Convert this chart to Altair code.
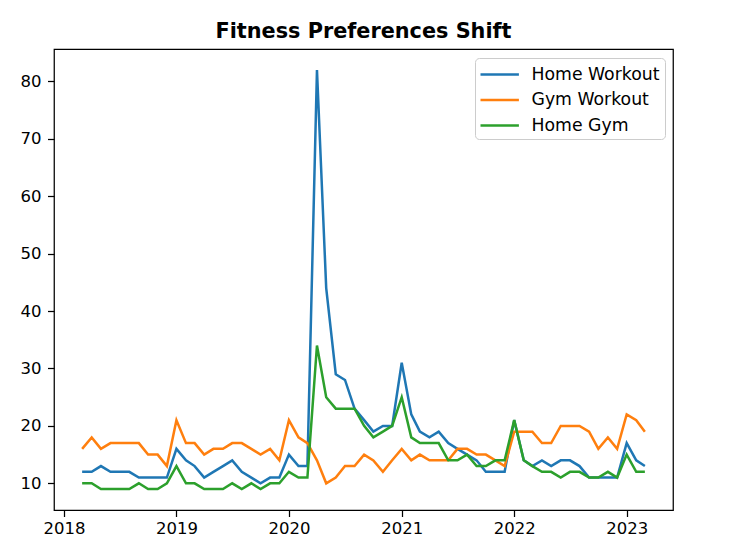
import altair as alt
import pandas as pd

# Monthly dates, 2018-03 .. 2023-03
months = [f"{y}-{m:02d}-01" for y in range(2018, 2024) for m in range(1, 13)
          if (y, m) >= (2018, 3) and (y, m) <= (2023, 3)]

home_workout = [12, 12, 13, 12, 12, 12, 11, 11, 11, 11,
                16, 14, 13, 11, 12, 13, 14, 12, 11, 10, 11, 11,
                15, 13, 13, 82, 44, 29, 28, 23, 21, 19, 20, 20,
                31, 22, 19, 18, 19, 17, 16, 15, 14, 12, 12, 12,
                21, 14, 13, 14, 13, 14, 14, 13, 11, 11, 11, 11,
                17, 14, 13]
gym_workout = [16, 18, 16, 17, 17, 17, 17, 15, 15, 13,
               21, 17, 17, 15, 16, 16, 17, 17, 16, 15, 16, 14,
               21, 18, 17, 14, 10, 11, 13, 13, 15, 14, 12, 14,
               16, 14, 15, 14, 14, 14, 16, 16, 15, 15, 14, 13,
               19, 19, 19, 17, 17, 20, 20, 20, 19, 16, 18, 16,
               22, 21, 19]
home_gym = [10, 10, 9, 9, 9, 9, 10, 9, 9, 10,
            13, 10, 10, 9, 9, 9, 10, 9, 10, 9, 10, 10,
            12, 11, 11, 34, 25, 23, 23, 23, 20, 18, 19, 20,
            25, 18, 17, 17, 17, 14, 14, 15, 13, 13, 14, 14,
            21, 14, 13, 12, 12, 11, 12, 12, 11, 11, 12, 11,
            15, 12, 12]

series_names = ["Home Workout", "Gym Workout", "Home Gym"]
series_colors = ["#1f77b4", "#ff7f0e", "#2ca02c"]
year_ticks = [2018, 2019, 2020, 2021, 2022, 2023]
y_ticks = [10, 20, 30, 40, 50, 60, 70, 80]

rows = []
for name, vals in zip(series_names, [home_workout, gym_workout, home_gym]):
    for d, v in zip(months, vals):
        rows.append({"date": d, "value": v, "series": name})
df = pd.DataFrame(rows)

FONT = "DejaVu Sans"

chart = alt.Chart(df).mark_line(strokeWidth=2.5).encode(
    x=alt.X("date:T",
            scale=alt.Scale(type="utc",
                            domain=[alt.DateTime(year=2017, month=11, date=29, hours=17, utc=True),
                                    alt.DateTime(year=2023, month=5, date=31, hours=7, utc=True)]),
            axis=alt.Axis(title=None, format="%Y", formatType="utc",
                          values=[alt.DateTime(year=y, month=1, date=1, utc=True) for y in year_ticks],
                          labelPadding=3.5)),
    y=alt.Y("value:Q",
            scale=alt.Scale(domain=[5.35, 85.65], nice=False, zero=False),
            axis=alt.Axis(title=None, values=y_ticks, labelPadding=6.5)),
    color=alt.Color("series:N",
                    scale=alt.Scale(domain=series_names, range=series_colors),
                    legend=alt.Legend(title=None, orient="top-right", offset=8.5,
                                      symbolType="M-1.92,0H1.92", symbolSize=400,
                                      symbolStrokeWidth=2.5, symbolOffset=8.2,
                                      labelOffset=20.3, padding=5, rowPadding=5.5,
                                      strokeColor="#cccccc", cornerRadius=4,
                                      fillColor="white", labelFontSize=17.3,
                                      labelFont=FONT, labelColor="black")),
    order=alt.Order("date:T"),
).properties(
    width=619,
    height=461,
    autosize=alt.AutoSizeParams(type="none"),
    padding={"left": 46, "top": 41, "right": 48, "bottom": 37},
    background="white",
    title=alt.TitleParams("Fitness Preferences Shift", font=FONT, fontSize=20.8,
                          fontWeight="bold", color="black", offset=10.7,
                          baseline="alphabetic", frame="group", dy=20),
).configure_view(
    stroke="black", strokeWidth=1.25
).configure_axis(
    domain=False, grid=False, tickColor="black", tickWidth=1.25, tickSize=6.5,
    labelFont=FONT, labelFontSize=16.5, labelColor="black"
)

chart.save("out.html", embed_options={"renderer": "svg", "actions": False})
